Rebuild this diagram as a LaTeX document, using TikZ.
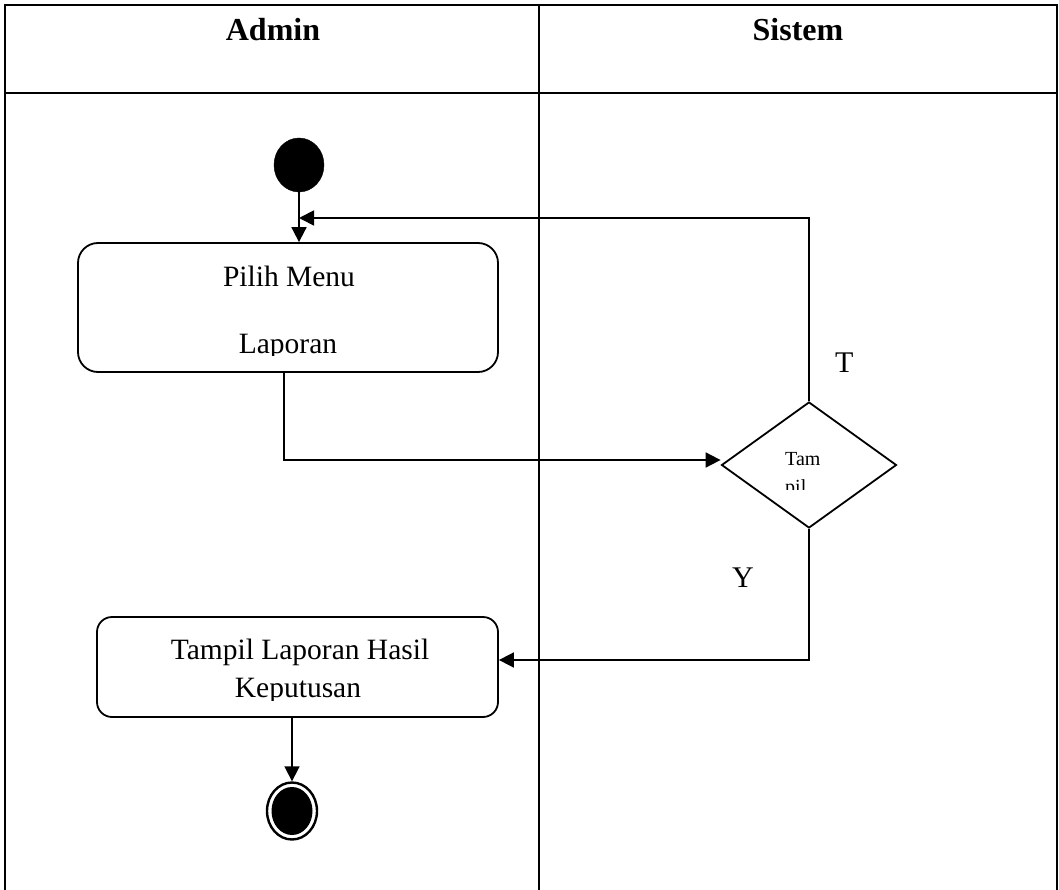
\documentclass[tikz,border=0pt]{standalone}
\usepackage{fontspec}
\setmainfont{Liberation Serif}
\usetikzlibrary{arrows.meta,shapes.geometric,calc}
\begin{document}
\begin{tikzpicture}[x=1pt,y=-1pt,
  lane/.style={line width=2pt},
  flow/.style={line width=1.8pt,-{Triangle[length=15pt,width=15pt]}},
  act/.style={draw,line width=1.8pt,inner sep=0pt},
  head/.style={font=\fontsize{32}{38}\selectfont\bfseries,anchor=base,inner sep=0pt},
  lbl/.style={font=\fontsize{29.5}{35}\selectfont,anchor=base,inner sep=0pt},
  small/.style={font=\fontsize{20}{24}\selectfont,anchor=base west,inner sep=0pt},
  guard/.style={font=\fontsize{30}{36}\selectfont,anchor=base west,inner sep=0pt}
]
\useasboundingbox (0,0) rectangle (1059,890);

% swimlane table
\draw[lane] (5,890) -- (5,5) -- (1057,5) -- (1057,890);
\draw[lane] (5,93) -- (1057,93);
\draw[lane] (539,5) -- (539,890);
\node[head] (hadmin) at (273,41) {Admin};
\node[head] (hsistem) at (798,41) {Sistem};

% initial node
\node[draw,fill=black,ellipse,minimum width=50pt,minimum height=54pt,inner sep=0pt] (start) at (299,165) {};

% action: Pilih Menu Laporan
\node[act,rounded corners=20pt,minimum width=420pt,minimum height=129pt] (box1) at (288,307.5) {};
\node[lbl] (t1a) at (289,287) {Pilih Menu};
\begin{scope}
  \clip (150,300) rectangle (450,355);
  \node[lbl] (t1b) at (288,353) {Laporan};
\end{scope}

% decision
\node[diamond,draw,line width=1.8pt,minimum width=175pt,minimum height=126pt,inner sep=0pt] (dec) at (809,465) {};
\begin{scope}
  \clip (760,430) rectangle (860,489);
  \node[small] (d1) at (785,465) {Tam};
  \node[small] (d2) at (785,493) {pil};
\end{scope}
\node[guard] (gT) at (835,372) {T};
\node[guard] (gY) at (732,587) {Y};

% action: Tampil Laporan Hasil Keputusan
\node[act,rounded corners=15pt,minimum width=401pt,minimum height=100pt] (box2) at (297.5,667) {};
\node[lbl] (t2a) at (300,659) {Tampil Laporan Hasil};
\begin{scope}
  \clip (150,670) rectangle (450,700);
  \node[lbl] (t2b) at (298,697) {Keputusan};
\end{scope}

% final node
\node[draw,line width=2.4pt,ellipse,minimum width=50pt,minimum height=57pt,inner sep=0pt] (end) at (292,811) {};
\node[fill=black,ellipse,minimum width=41pt,minimum height=48pt,inner sep=0pt] (endin) at (end.center) {};

% flows
\coordinate (retc) at (809,218);
\coordinate (ycorn) at (809,660);
\draw[flow] (start.south) -- (start |- box1.north);
\draw[flow] ([xshift=-4pt]box1.south) |- ([yshift=5pt]dec.west);
\draw[flow] (dec.north) -- (retc) -- (retc -| start);
\draw[flow] (dec.south) -- (ycorn) -- (ycorn -| box2.east);
\draw[flow] (box2.south -| end) -- (end.north);
\end{tikzpicture}
\end{document}
